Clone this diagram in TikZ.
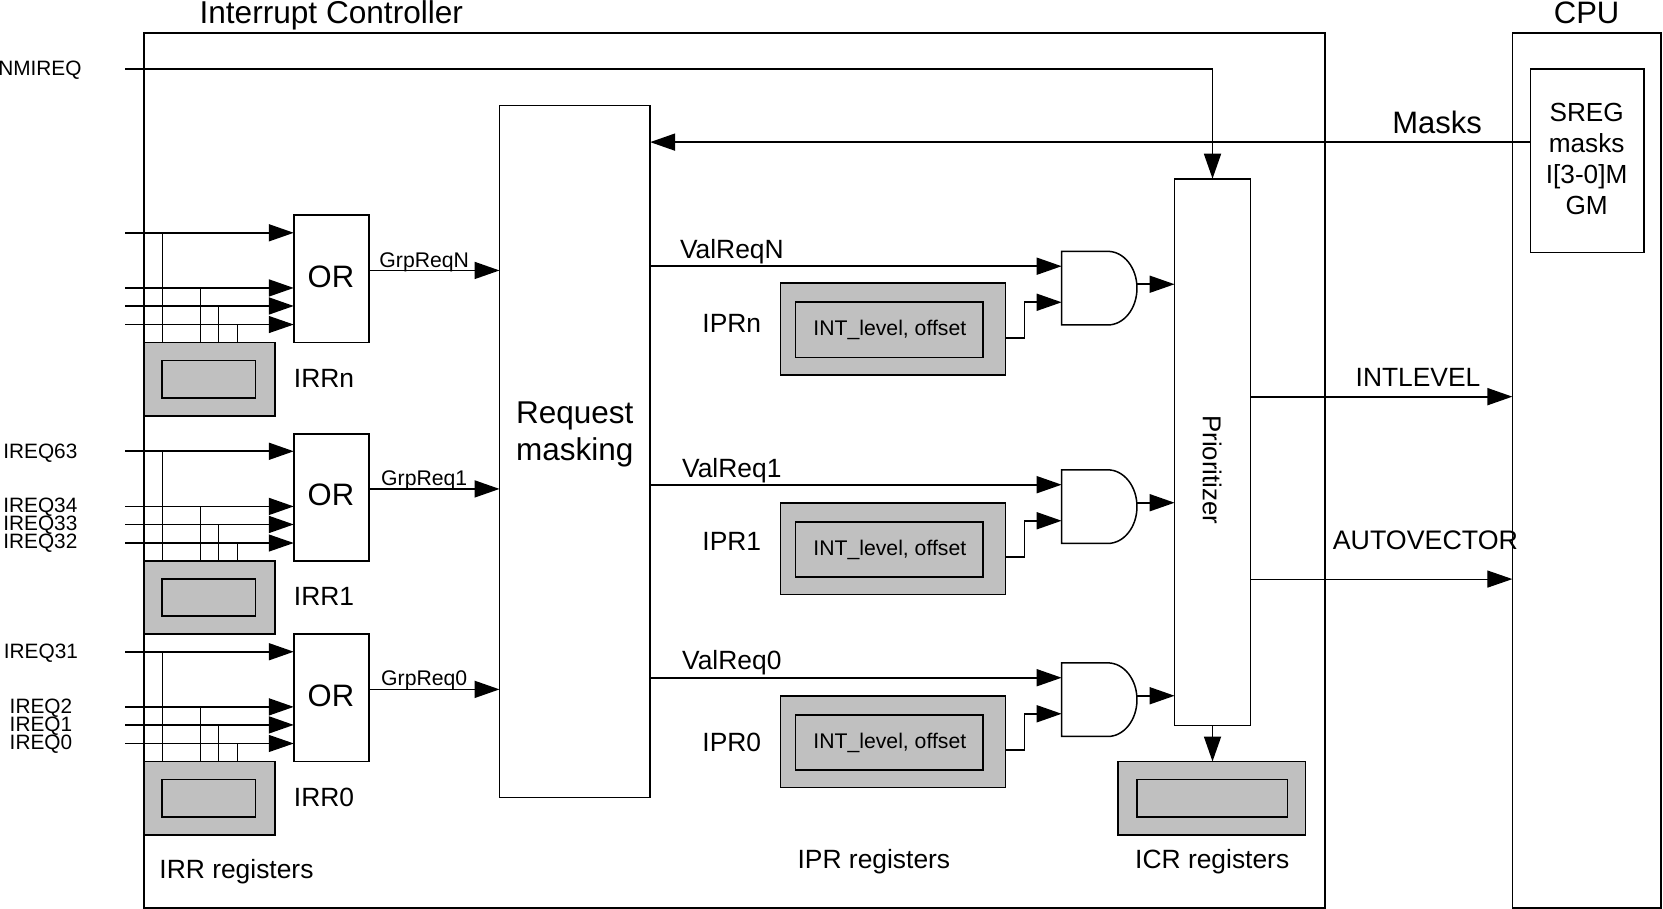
\documentclass[tikz,border=0pt]{standalone}
\usepackage{fontspec}
\setmainfont{Liberation Sans}
\usetikzlibrary{arrows.meta,fit,calc}
\tikzset{
  line/.style={line width=1.7pt,black},
  fine/.style={line width=1.1pt,black},
  arr/.style={line,-{Triangle[length=25pt,width=17pt]}},
  arrfine/.style={fine,-{Triangle[length=25pt,width=17pt]}},
  rbox/.style={draw,line width=1.7pt,inner sep=0pt,outer sep=0pt,fill=white},
  greybox/.style={rbox,fill=regfill},
  t31/.style={inner sep=0pt,font=\fontsize{31}{37}\selectfont,text height=22.2pt,text depth=0pt},
  t26/.style={inner sep=0pt,font=\fontsize{26.4}{31}\selectfont,text height=18.6pt,text depth=0pt},
  t21/.style={inner sep=0pt,font=\fontsize{21.2}{25}\selectfont,text height=15pt,text depth=0pt},
  tq/.style={inner sep=0pt,font=\fontsize{20.8}{25}\selectfont,text height=14.6pt,text depth=0pt,anchor=west},
}
\definecolor{regfill}{RGB}{192,192,192}
\begin{document}
\begin{tikzpicture}[x=1.0606pt,y=-1.0606pt]
\useasboundingbox (0,0) rectangle (1568,857);
% frames
\node[rbox,fit={(136,31)(1249,856)}] (ctrl) {};
\node[rbox,fit={(1426,31)(1566,856)}] (cpu) {};
\node[t31,font=\fontsize{31.6}{37}\selectfont,anchor=west] (ctrltitle) at (188,12) {Interrupt Controller};
\node[t31] (cputitle) at (1496,12) {CPU};
% main blocks
\node[rbox,fit={(471,99.5)(613,752)}] (mask) {};
\node[inner sep=0pt,align=center,font=\fontsize{31.5}{37}\selectfont] (masktext) at (542,410) {Request\\masking};
\node[rbox,fit={(1107.5,168.5)(1179,684)}] (pri) {};
\node[t26,font=\fontsize{25.8}{31}\selectfont,rotate=-90] (pritext) at (1143,443) {Prioritizer};
\node[rbox,fit={(1443,65)(1550,238)}] (sreg) {};
\node[inner sep=0pt,align=center,font=\fontsize{26.2}{30.8}\selectfont] (sregtext) at (1496,150) {SREG\\masks\\I[3-0]M\\GM};
% NMI and masks
\coordinate (nmi) at (118,65);
\node[tq,anchor=east] (nmilabel) at (77,64) {NMIREQ};
\draw[arr] (nmi) -- (nmi -| pri.north) -- (pri.north);
\coordinate (maskout) at (1443,134);
\draw[arr] (maskout) -- (maskout -| mask.east);
\node[t31] (masklabel) at (1355,115) {Masks};
% outputs
\coordinate (il) at (1179,374);
\coordinate (av) at (1179,546);
\draw[arr] (il) -- (il -| cpu.west);
\draw[arrfine] (av) -- (av -| cpu.west);
\node[t26] (illabel) at (1337,355.5) {INTLEVEL};
\node[t26,font=\fontsize{26.8}{31}\selectfont] (avlabel) at (1344,509.5) {AUTOVECTOR};
% ICR
\node[greybox,fit={(1054,718)(1231,787)}] (icr) {};
\node[greybox,fit={(1072,735)(1214,770)}] (icrin) {};
\draw[arr] (pri.south) -- (pri.south |- icr.north);
% OR groups
\foreach \s/\b/\irr/\grp in {n/203/IRRn/GrpReqN,one/409/IRR1/GrpReq1,zero/598/IRR0/GrpReq0}{
\begin{scope}[shift={(0,\b)}]
  \node[rbox,fit={(277,0)(348,120)}] (or\s) {};
  \node[t31] (ortext\s) at (312,57.5) {OR};
  \node[greybox,fit={(136,120)(259,189)}] (irr\s) {};
  \node[greybox,fit={(153,137)(241,172)}] (irrin\s) {};
  \node[t26,anchor=west] (irrlabel\s) at (277,153.5) {\irr};
  \coordinate (ia\s) at (118,16.5);
  \coordinate (ib\s) at (118,68.5);
  \coordinate (ic\s) at (118,85.5);
  \coordinate (id\s) at (118,103);
  \draw[arr] (ia\s) -- (ia\s -| or\s.west);
  \draw[arr] (ib\s) -- (ib\s -| or\s.west);
  \draw[arr] (ic\s) -- (ic\s -| or\s.west);
  \draw[arrfine] (id\s) -- (id\s -| or\s.west);
  \coordinate (va\s) at (153,120);
  \coordinate (vb\s) at (189,120);
  \coordinate (vc\s) at (206,120);
  \coordinate (vd\s) at (224,120);
  \draw[fine] (va\s) -- (va\s |- ia\s);
  \draw[line] (vb\s) -- (vb\s |- ib\s);
  \draw[line] (vc\s) -- (vc\s |- ic\s);
  \draw[line] (vd\s) -- (vd\s |- id\s);
  \coordinate (oo\s) at (348,52);
  \draw[arr] (oo\s) -- (oo\s -| mask.west);
  \node[t21] (grp\s) at (400,41.7) {\grp};
\end{scope}
}
% IREQ labels
\node[tq] (q63) at (3,425.5) {IREQ63};
\node[tq] (q34) at (3,476.5) {IREQ34};
\node[tq] (q33) at (3,493.5) {IREQ33};
\node[tq] (q32) at (3,510.5) {IREQ32};
\node[tq] (q31) at (3.5,614) {IREQ31};
\node[tq] (q2) at (9,666) {IREQ2};
\node[tq] (q1) at (9,682.7) {IREQ1};
\node[tq] (q0) at (9,699.5) {IREQ0};
% AND groups
\foreach \s/\b/\ipr/\val/\lx/\gy/\iy/\cy/\vy in {n/237/IPRn/ValReqN/641/30/68/82/-2,one/443/IPR1/ValReq1/643/31/67.5/82/-1.5,zero/625/IPR0/ValReq0/643/31/74.5/82/-2.5}{
\begin{scope}[shift={(0,\b)}]
  \path[draw,line width=1.5pt,fill=white] (1001,0) -- (1044.5,0) arc[start angle=90,end angle=-90,x radius=29.2pt,y radius=36.8pt] -- (1001,69.4) -- cycle;
  \coordinate (ain\s) at (1001,14);
  \coordinate (bin\s) at (1001,48);
  \coordinate (aout\s) at (1072,31);
  \coordinate (vs\s) at (613,14);
  \draw[arr] (vs\s) -- (ain\s);
  \node[t26,anchor=west] (val\s) at (\lx,\vy) {\val};
  \draw[arr] (aout\s) -- (aout\s -| pri.west);
  \node[greybox,fit={(736,\gy)(948,\gy+86.5)}] (ipr\s) {};
  \node[greybox,fit={(750,\gy+18)(927,\gy+70)}] (iprin\s) {};
  \node[t21] (int\s) at (839,\gy+42.3) {INT\_level, offset};
  \node[t26] (iprlabel\s) at (690,\iy) {\ipr};
  \coordinate (cs\s) at (948,\cy);
  \draw[arr] (cs\s) -- (966,\cy) -- (966,48) -- (bin\s);
\end{scope}
}
% captions
\node[t26] (irrcap) at (223,819.5) {IRR registers};
\node[t26] (iprcap) at (824,810.5) {IPR registers};
\node[t26] (icrcap) at (1143,810.5) {ICR registers};
\end{tikzpicture}
\end{document}
